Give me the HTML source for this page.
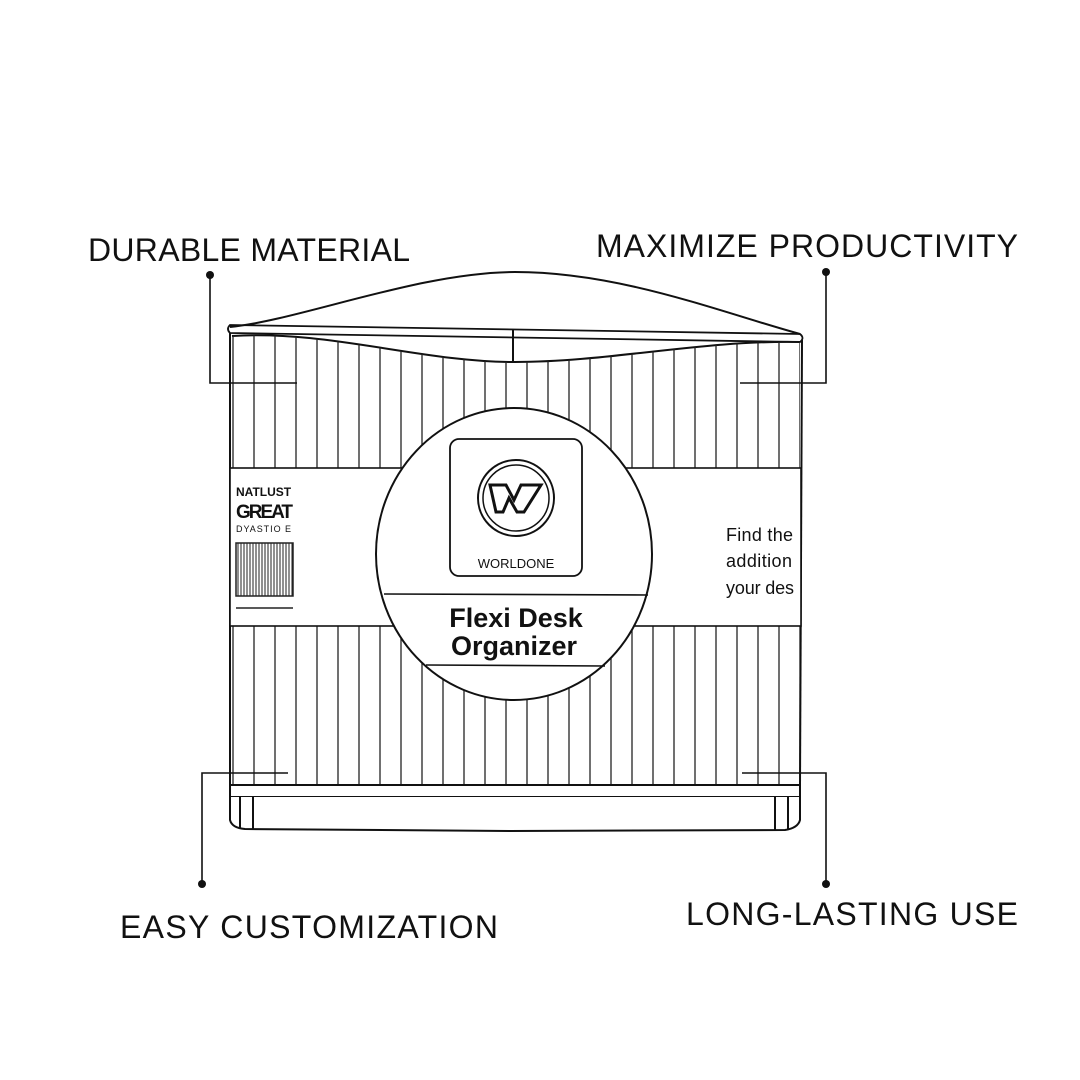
<!DOCTYPE html>
<html><head><meta charset="utf-8"><style>
html,body{margin:0;padding:0;background:#fff;}
svg{display:block}
</style></head><body>
<svg width="1080" height="1080" viewBox="0 0 1080 1080" xmlns="http://www.w3.org/2000/svg">
<defs>
<pattern id="vl" x="232" y="0" width="21" height="10" patternUnits="userSpaceOnUse">
<line x1="1" y1="0" x2="1" y2="10" stroke="#222" stroke-width="1.3"/>
</pattern>
<pattern id="bc" x="237" y="0" width="3" height="10" patternUnits="userSpaceOnUse">
<line x1="1" y1="0" x2="1" y2="10" stroke="#222" stroke-width="1"/>
</pattern>
<clipPath id="topc"><path d="M230 336 C330 330 420 362 515 362 C610 362 700 340 800 342 L800 470 L230 470 Z"/></clipPath>
</defs>
<rect width="1080" height="1080" fill="#fff"/>
<g stroke="#111" fill="none" stroke-width="2">
<path d="M230 327 C300 320 420 272 515 272 C620 272 720 312 800 334"/>
<path d="M230 325 L800 334 Q805 338 800 342 L230 333 Q226 329 230 325 Z" stroke-width="1.8"/>
<path d="M232 336 C330 330 420 362 515 362 C610 362 700 340 800 342"/>
<line x1="513" y1="329" x2="513" y2="362"/>
</g>
<rect x="230" y="330" width="572" height="140" fill="url(#vl)" clip-path="url(#topc)"/>
<rect x="230" y="625" width="572" height="160" fill="url(#vl)"/>
<g stroke="#111" fill="none" stroke-width="2">
<line x1="230" y1="333" x2="230" y2="785"/>
<line x1="802" y1="340" x2="800" y2="785"/>
<rect x="230" y="468" width="571" height="158" fill="#fff" stroke-width="1.6"/>
<path d="M230 785 L800 785 L800 797 L230 797 Z" fill="#fff"/>
<path d="M230 797 L230 820 Q232 828 245 829 L510 831 L785 830 Q798 828 800 820 L800 797" fill="#fff"/>
<line x1="240" y1="797" x2="240" y2="828"/>
<line x1="253" y1="797" x2="253" y2="829"/>
<line x1="775" y1="797" x2="775" y2="830"/>
<line x1="788" y1="797" x2="788" y2="829"/>
<ellipse cx="514" cy="554" rx="138" ry="146" fill="#fff"/>
<rect x="450" y="439" width="132" height="137" rx="9" stroke-width="1.8"/>
<circle cx="516" cy="498" r="38"/>
<circle cx="516" cy="498" r="33" stroke-width="1.5"/>
<line x1="384" y1="594" x2="648" y2="595" stroke-width="1.6"/>
<line x1="426" y1="665" x2="605" y2="666" stroke-width="1.6"/>
</g>
<path d="M490 485 L506 485 L514 500 L521 485 L541 485 L524 512 L517 512 L509 498 L503 512 L496 512 Z" fill="none" stroke="#111" stroke-width="3"/>
<g font-family="Liberation Sans, sans-serif" fill="#111">
<text x="516" y="568" font-size="13" text-anchor="middle">WORLDONE</text>
<text x="516" y="627" font-size="27" font-weight="bold" text-anchor="middle">Flexi Desk</text>
<text x="514" y="655" font-size="27" font-weight="bold" text-anchor="middle">Organizer</text>
<text x="236" y="496" font-size="12" font-weight="bold">NATLUST</text>
<text x="236" y="518" font-size="19" font-weight="bold" textLength="57">GREAT</text>
<text x="236" y="532" font-size="9" textLength="55">DYASTIO E</text>
<text x="726" y="541" font-size="18" textLength="67">Find the</text>
<text x="726" y="567" font-size="18" textLength="66">addition</text>
<text x="726" y="594" font-size="18" textLength="68">your des</text>
</g>
<rect x="236" y="543" width="57" height="53" fill="url(#bc)" stroke="#222" stroke-width="1.5"/>
<line x1="236" y1="608" x2="293" y2="608" stroke="#222" stroke-width="1.5"/>
<g stroke="#111" stroke-width="1.6" fill="none">
<polyline points="210,275 210,383 297,383"/>
<polyline points="826,272 826,383 740,383"/>
<polyline points="202,884 202,773 288,773"/>
<polyline points="826,884 826,773 742,773"/>
</g>
<g fill="#111">
<circle cx="210" cy="275" r="4"/><circle cx="826" cy="272" r="4"/>
<circle cx="202" cy="884" r="4"/><circle cx="826" cy="884" r="4"/>
</g>
<g font-family="Liberation Sans, sans-serif" font-size="32" fill="#111">
<text x="88" y="261" textLength="322">DURABLE MATERIAL</text>
<text x="596" y="257" textLength="422">MAXIMIZE PRODUCTIVITY</text>
<text x="120" y="938" textLength="378">EASY CUSTOMIZATION</text>
<text x="686" y="925" textLength="332">LONG-LASTING USE</text>
</g>
</svg>
</body></html>
